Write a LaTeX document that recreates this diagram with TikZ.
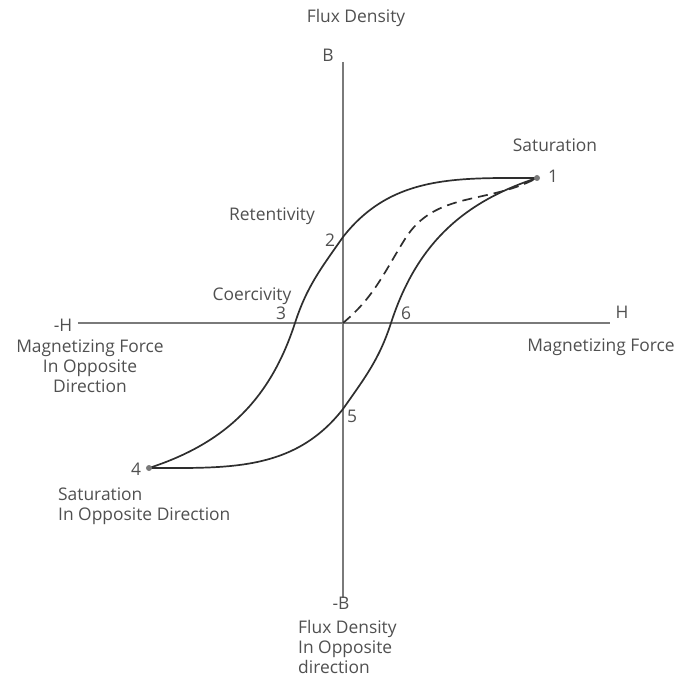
\documentclass[tikz,border=0pt]{standalone}
\usepackage{fontspec}
\setmainfont{Open Sans}
\usetikzlibrary{positioning}

\definecolor{txtgray}{HTML}{505050}
\definecolor{axisgray}{HTML}{7A7A7A}
\definecolor{curvegray}{HTML}{2E2E2E}

\tikzset{
  lbl/.style={text=txtgray, font=\fontsize{17.4}{20}\selectfont, inner sep=0pt},
  axisline/.style={axisgray, line width=1.8pt},
  loopline/.style={curvegray, line width=1.7pt},
  virgin/.style={curvegray, line width=1.7pt, dash pattern=on 10pt off 6pt}
}

\begin{document}
\begin{tikzpicture}[x=1pt,y=1pt]
      \useasboundingbox (-343,-357) rectangle (334,323);

      % points of the loop
      \coordinate (O) at (0,0);
      \coordinate (P1) at (194,145);
      \coordinate (P2) at (0,86);
      \coordinate (P3) at (-48,0);
      \coordinate (P4) at (-194,-145);
      \coordinate (P5) at (0,-86);
      \coordinate (P6) at (48,0);
      \coordinate (M) at (62,84);

      % axes
      \draw (0,261) coordinate (Btop) (0,-275) coordinate (Bbot);
      \draw (-265,0) coordinate (Hleft) (267,0) coordinate (Hright);
      \draw[axisline] (Btop) -- (Bbot);
      \draw[axisline] (Hleft) -- (Hright);

      % loop
      \draw[loopline] (P4) to[out=18,in=-108] (P3) to[out=72,in=-125] (P2) to[out=52,in=180] (P1);
      \draw[loopline] (P4) to[out=0,in=-128] (P5) to[out=55,in=-108] (P6) to[out=72,in=-162] (P1);
      \draw[virgin] (O) to[out=40,in=-122] (M) to[out=58,in=-152] (P1);
      \fill[axisgray] (P1) circle (3pt) (P4) circle (3pt);

      % labels
      \draw (13,305) node[lbl] (fluxB) {Flux Density} (-15,268) node[lbl] (B) {B};
      \draw (-280,-2) node[lbl] (mH) {-H} (279,11) node[lbl] (H) {H};
      \draw (212,178) node[lbl] (sat) {Saturation} (210,147) node[lbl] (n1) {1};
      \draw (-71,107) node[lbl] (ret) {Retentivity} (-13,83) node[lbl] (n2) {2};
      \draw (-91,27) node[lbl] (coe) {Coercivity} (-62,10) node[lbl] (n3) {3};
      \draw (63,10) node[lbl] (n6) {6} (9,-93) node[lbl] (n5) {5} (-207,-146) node[lbl] (n4) {4};
      \draw (258,-24) node[lbl] (mf) {Magnetizing Force};
      \draw (-253,-43) node[lbl, align=center] (mfopp) {Magnetizing Force\\In Opposite\\Direction};
      \draw (-285,-165) node[lbl, anchor=north west, align=left] (satopp) {Saturation\\In Opposite Direction};
      \draw (-2,-280) node[lbl] (mB) {-B};
      \draw (-45,-297) node[lbl, anchor=north west, align=left] (fluxopp) {Flux Density\\In Opposite\\direction};
    \end{tikzpicture}
\end{document}
